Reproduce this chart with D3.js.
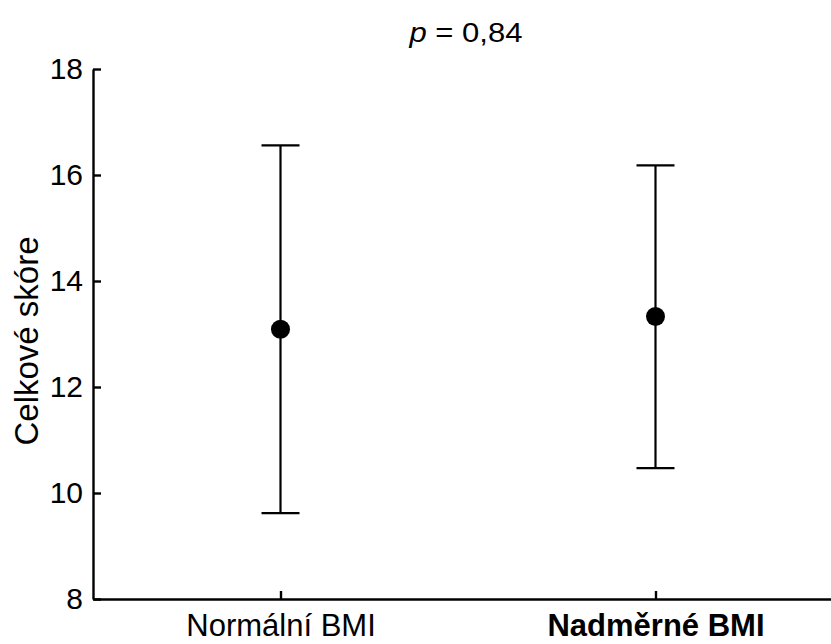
<!DOCTYPE html>
<html>
<head>
<meta charset="utf-8">
<script src="https://cdn.jsdelivr.net/npm/d3@7"></script>
<style>
    body { margin: 0; background: #fff; }
    svg { display: block; font-family: "Liberation Sans", Arial, sans-serif; }
</style>
</head>
<body>
<svg id="chart" width="831" height="644"></svg>
<script>
// data
const categories = ['Normální BMI', 'Nadměrné BMI'];
const means = [13.09, 13.33];
const lower = [9.62, 10.47];
const upper = [16.56, 16.18];
const yTicks = [8, 10, 12, 14, 16, 18];
const pLabel = '0,84';

const width = 831, height = 644;
const svg = d3.select('#chart');

// scales
const x = d3.scalePoint()
    .domain(categories)
    .range([93, 843])
    .padding(0.5);

const y = d3.scaleLinear()
    .domain([8, 18])
    .range([599, 69]);

// axes, ticks pointing inward
const xAxis = svg.append('g')
    .attr('transform', 'translate(0,599)')
    .call(d3.axisBottom(x).tickSizeInner(-8).tickSizeOuter(0).tickPadding(15));

const yAxis = svg.append('g')
    .attr('transform', 'translate(93,0)')
    .call(d3.axisLeft(y).tickValues(yTicks).tickSizeInner(-8).tickSizeOuter(0).tickPadding(10));

[xAxis, yAxis].forEach(function (g) {
    g.select('.domain').attr('stroke', '#000').attr('stroke-width', 2.4);
    g.selectAll('.tick line').attr('stroke', '#000').attr('stroke-width', 2.4);
    g.selectAll('.tick text')
        .attr('fill', '#000')
        .style('font-family', '"Liberation Sans", Arial, sans-serif');
});

yAxis.selectAll('.tick text').style('font-size', '30px');
xAxis.selectAll('.tick text')
    .style('font-size', '31px')
    .style('font-weight', (d, i) => i === 1 ? 'bold' : 'normal');

// y label
svg.append('text')
    .attr('transform', 'translate(38,341) rotate(-90)')
    .attr('text-anchor', 'middle')
    .style('font-size', '33px')
    .text('Celkové skóre');

// title
const title = svg.append('text')
    .attr('transform', 'translate(466,42) scale(1.15,1)')
    .attr('text-anchor', 'middle')
    .style('font-size', '27px');
title.append('tspan').style('font-style', 'italic').text('p');
title.append('tspan').text(' = ' + pLabel);

// error bars
const rows = categories.map((c, i) => ({ cat: c, mean: means[i], lo: lower[i], hi: upper[i] }));
const capHalf = 19;

const bars = svg.append('g')
    .selectAll('g')
    .data(rows)
    .enter()
    .append('g');

bars.append('line')
    .attr('x1', d => x(d.cat))
    .attr('x2', d => x(d.cat))
    .attr('y1', d => y(d.lo))
    .attr('y2', d => y(d.hi))
    .attr('stroke', '#000')
    .attr('stroke-width', 2.2);

bars.selectAll('line.cap')
    .data(d => [{ cat: d.cat, v: d.lo }, { cat: d.cat, v: d.hi }])
    .enter()
    .append('line')
    .attr('class', 'cap')
    .attr('x1', d => x(d.cat) - capHalf)
    .attr('x2', d => x(d.cat) + capHalf)
    .attr('y1', d => y(d.v))
    .attr('y2', d => y(d.v))
    .attr('stroke', '#000')
    .attr('stroke-width', 2.2);

bars.append('circle')
    .attr('cx', d => x(d.cat))
    .attr('cy', d => y(d.mean))
    .attr('r', 9.5)
    .attr('fill', '#000');
</script>
</body>
</html>
